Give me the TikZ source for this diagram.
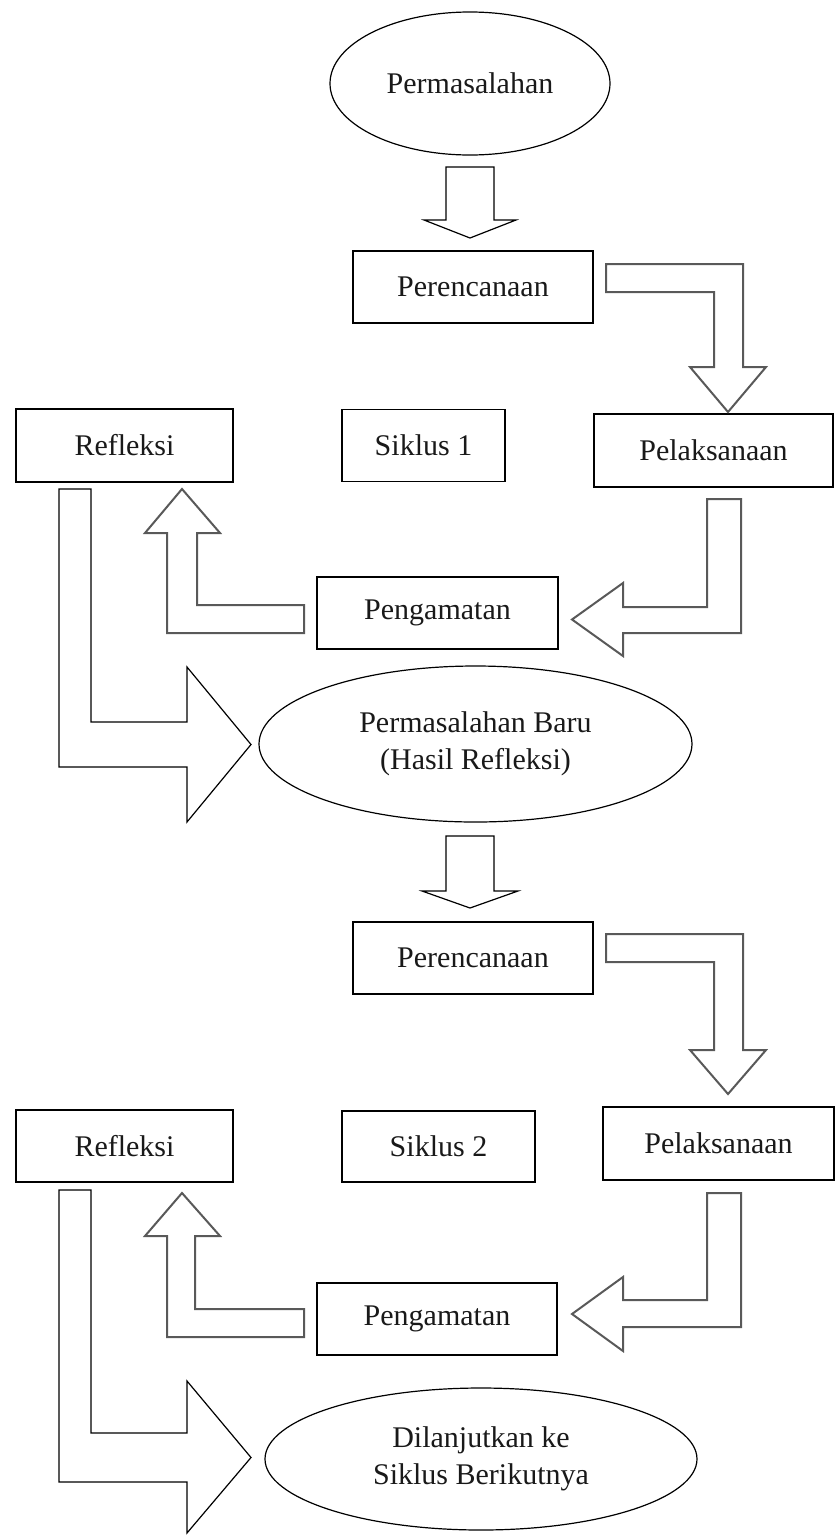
\documentclass[tikz,border=0pt]{standalone}
\usepackage{fontspec}
\setmainfont{Liberation Serif}
\usetikzlibrary{shapes.geometric}
\begin{document}
\begin{tikzpicture}[x=1pt,y=-1pt,
  lbl/.style={font=\fontsize{30}{37}\selectfont, align=center, inner sep=0pt, text=black!90},
  box/.style={lbl, draw=black, line width=1.5pt, rectangle},
  oval/.style={lbl, draw=black, line width=1.2pt, ellipse},
  blk/.style={draw=black, line width=1.2pt, fill=white, line join=miter},
  gry/.style={draw=black!65, line width=2pt, fill=white, line join=miter}]
\useasboundingbox (0,0) rectangle (835,1535);

% ---------- Cycle 1 ----------
\node[oval, minimum width=280pt, minimum height=143pt] (p1) at (470,83.5) {Permasalahan};
\node[box, minimum width=240pt, minimum height=72pt] (ren1) at (473,287) {Perencanaan};
\node[box, minimum width=239pt, minimum height=73pt] (pel1) at (713.5,450.5) {Pelaksanaan};
\node[box, minimum width=217pt, minimum height=73pt] (ref1) at (124.5,445.5) {Refleksi};
\node[box, minimum width=163pt, minimum height=72pt] (sik1) at (423.5,445.5) {Siklus 1};
\node[box, minimum width=241pt, minimum height=72pt] (pen1) at (437.5,613) {Pengamatan};
\node[oval, minimum width=433pt, minimum height=156pt] (pb) at (475.5,744) {Permasalahan Baru\\(Hasil Refleksi)};

% p1 -> ren1
\draw[blk] (446,167) -- (494,167) -- (494,220) -- (516,220) -- (470,238) -- (424,220) -- (446,220) -- cycle;
% ren1 -> pel1
\draw[gry] (606,264) -- (743,264) -- (743,367) -- (766,367) -- (728,412) -- (690,367) -- (714,367) -- (714,292) -- (606,292) -- cycle;
% pel1 -> pen1
\draw[gry] (707,499) -- (741,499) -- (741,633) -- (623,633) -- (623,656) -- (572,619.5) -- (623,583) -- (623,607) -- (707,607) -- cycle;
% pen1 -> ref1
\draw[gry] (304,605) -- (304,633) -- (167,633) -- (167,533) -- (145,533) -- (182,489) -- (220,533) -- (197,533) -- (197,605) -- cycle;
% ref1 -> pb
\draw[blk] (59,489) -- (91,489) -- (91,722) -- (187,722) -- (187,667) -- (251,744.5) -- (187,822) -- (187,767) -- (59,767) -- cycle;

% ---------- Cycle 2 ----------
\node[box, minimum width=240pt, minimum height=72pt] (ren2) at (473,958) {Perencanaan};
\node[box, minimum width=231pt, minimum height=73pt] (pel2) at (718.5,1143.5) {Pelaksanaan};
\node[box, minimum width=217pt, minimum height=72pt] (ref2) at (124.5,1146) {Refleksi};
\node[box, minimum width=193pt, minimum height=71pt] (sik2) at (438.5,1146.5) {Siklus 2};
\node[box, minimum width=240pt, minimum height=72pt] (pen2) at (437,1319) {Pengamatan};
\node[oval, minimum width=432pt, minimum height=142pt] (dl) at (481,1459) {Dilanjutkan ke\\Siklus Berikutnya};

% pb -> ren2
\draw[blk] (446,836) -- (494,836) -- (494,891) -- (518,891) -- (470,908) -- (422,891) -- (446,891) -- cycle;
% ren2 -> pel2
\draw[gry] (606,934) -- (743,934) -- (743,1050) -- (766,1050) -- (728,1094) -- (690,1050) -- (714,1050) -- (714,962) -- (606,962) -- cycle;
% pel2 -> pen2
\draw[gry] (707,1193) -- (741,1193) -- (741,1327) -- (623,1327) -- (623,1351) -- (572,1314) -- (623,1277) -- (623,1300) -- (707,1300) -- cycle;
% pen2 -> ref2
\draw[gry] (304,1309) -- (304,1337) -- (167,1337) -- (167,1236) -- (145,1236) -- (182,1193) -- (220,1236) -- (195,1236) -- (195,1309) -- cycle;
% ref2 -> dl
\draw[blk] (59,1190) -- (91,1190) -- (91,1433) -- (187,1433) -- (187,1381) -- (251,1457.5) -- (187,1533) -- (187,1482) -- (59,1482) -- cycle;
\end{tikzpicture}
\end{document}
